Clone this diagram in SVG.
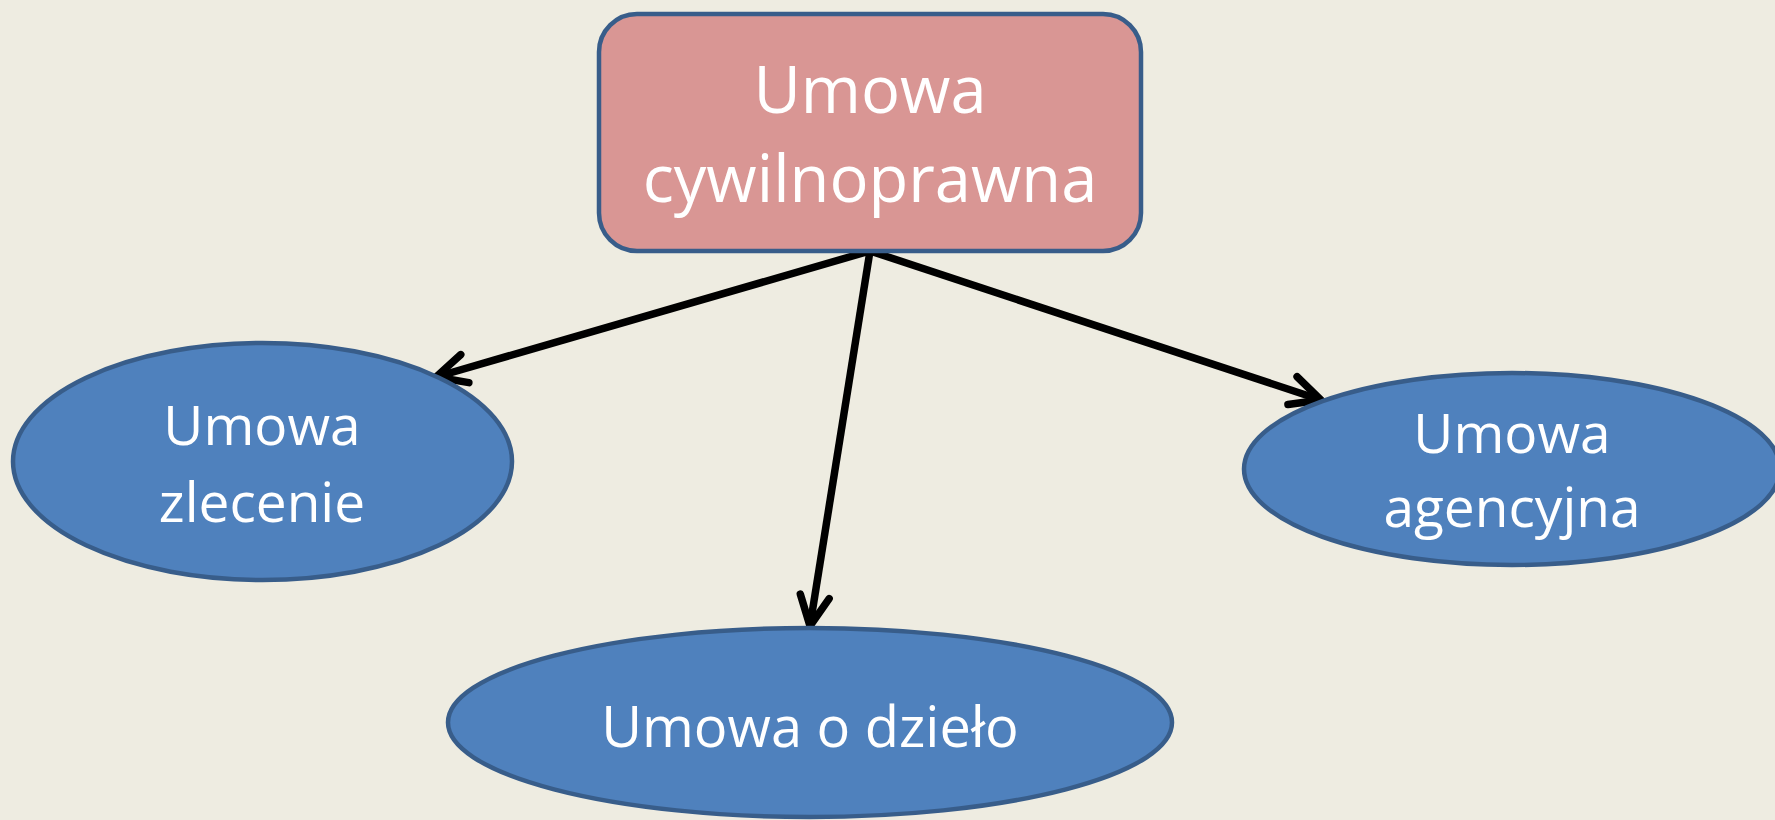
<svg xmlns="http://www.w3.org/2000/svg" width="1775" height="820" viewBox="0 0 1775 820">
  <style>
    .node-r { fill: #d99694; stroke: #385d8a; stroke-width: 4.5; }
    .node-e { fill: #4f81bd; stroke: #385d8a; stroke-width: 4.5; }
    .lbl { font-family: "Open Sans", "Noto Sans", sans-serif; fill: #ffffff; text-anchor: middle; }
    .conn { stroke: #000000; stroke-width: 7.5; fill: none; marker-end: url(#arrow); }
  </style>
  <defs>
    <marker id="arrow" markerUnits="userSpaceOnUse" markerWidth="40" markerHeight="40" refX="0" refY="0" orient="auto" overflow="visible">
      <path d="M -30,-14.6 L 0,0 L -30,14.6" fill="none" stroke="#000000" stroke-width="7.5" stroke-linecap="round" stroke-linejoin="miter"/>
    </marker>
  </defs>
  <rect x="0" y="0" width="1775" height="820" fill="#eeece1"/>
  <g id="connectors">
    <line class="conn" x1="870" y1="251" x2="436" y2="377"/>
    <line class="conn" x1="870" y1="251" x2="810" y2="626"/>
    <line class="conn" x1="870" y1="251" x2="1321" y2="400"/>
  </g>
  <g id="node-cywilnoprawna">
    <rect class="node-r" x="599" y="14" width="542" height="237" rx="38" ry="38"/>
    <text class="lbl" x="870" y="113" font-size="65">Umowa</text>
    <text class="lbl" x="870" y="202" font-size="65">cywilnoprawna</text>
  </g>
  <g id="node-zlecenie">
    <ellipse class="node-e" cx="262.5" cy="461.5" rx="249.5" ry="118.5"/>
    <text class="lbl" x="262" y="445" font-size="55">Umowa</text>
    <text class="lbl" x="262" y="522" font-size="55">zlecenie</text>
  </g>
  <g id="node-dzielo">
    <ellipse class="node-e" cx="810" cy="722.5" rx="362" ry="94.5"/>
    <text class="lbl" x="810" y="747" font-size="56">Umowa o dzieło</text>
  </g>
  <g id="node-agencyjna">
    <ellipse class="node-e" cx="1512" cy="469" rx="268" ry="96"/>
    <text class="lbl" x="1512" y="453" font-size="55">Umowa</text>
    <text class="lbl" x="1512" y="527" font-size="55">agencyjna</text>
  </g>
</svg>
